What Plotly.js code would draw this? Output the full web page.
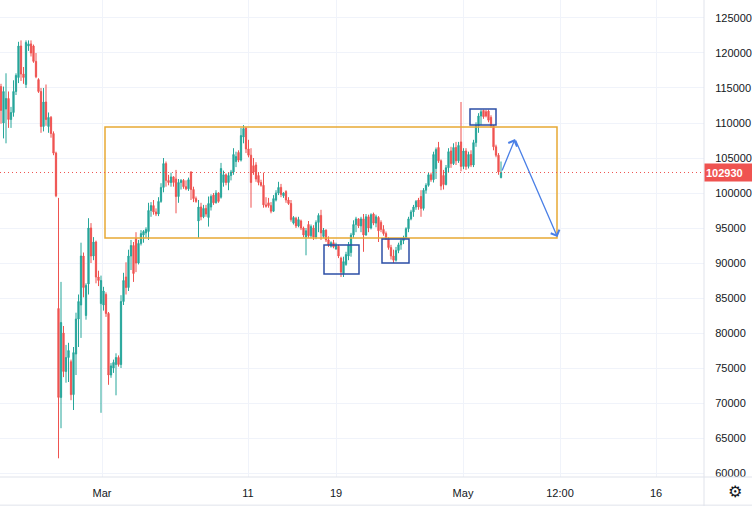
<!DOCTYPE html>
<html>
<head>
<meta charset="utf-8">
<script src="https://cdn.plot.ly/plotly-3.0.1.min.js"></script>
<style>html,body{margin:0;padding:0;background:#fff;}#chart{width:752px;height:506px;}</style>
</head>
<body>
<div id="chart"></div>
<script>
// Prices in thousands (axis adds the "000" suffix)
const openK = [
115.2,110,112,113.5,110.5,111.5,114.5,116.5,121,117,
115.5,121,121.3,121,118.8,116.2,114.5,109.5,113,109.5,
110.8,108.5,105.7,83.5,70.8,80,74.5,76.5,75.9,71.2,
77,82,84,91,82.5,87,95,91,93,88,
84.2,84,85.5,82.8,74,75,75.5,76.5,75.5,84.5,
88,86.5,91,92.5,93.5,90,92.8,94,94.3,94.5,
97.5,98.2,97.3,97,98.8,100.8,104.2,101.8,101.5,102.3,
102,99.5,101.5,101.8,100.9,100.6,103,100.5,99.2,96,
98,96.6,97.8,96.5,98,99.7,98.6,100,99.4,101.5,
102.6,101.5,102.5,103,104.5,105.8,104.7,108,109.3,106.3,
105.4,103.9,104,102.5,101.5,101.1,98.3,98.6,98.2,97.4,
99,100,100.8,99.6,100.2,99,98.5,95.7,96.4,95.3,
96,95,93.7,95.5,93.9,95,93.7,95.8,96.8,93.8,
94.7,93.3,92.4,92.9,92,92.4,90.7,88.5,89.8,91,
91.5,94,95.5,96.3,95.3,96.3,94,96.6,95,97,
95.7,96.5,95.8,94.8,94.2,93.5,92.2,91,90.4,91.8,
92.6,93.2,93.6,94.9,96.3,97.3,98,99,99.5,97.8,
100.4,101.1,102.6,101.9,103.5,106.5,104.6,102.5,101.2,103.6,
106,104.2,106.5,104.6,107.3,103.8,106,103.8,105.5,104,
107.2,109.6,111,111.8,111.6,111.7,110.8,109.6,106.6,105.4,
102.2];
const highK = [
115.6,115.2,117.1,114.5,112.3,116.1,117.1,121.6,121.8,118,
121.8,121.8,121.8,121.2,120,116.4,115,115,115.5,111.5,
111,108.8,105.9,99.3,87.3,81,78.3,78.6,76.2,78,
82.9,85.5,92.9,91.5,87.1,96.4,95.7,93.7,93.2,88.9,
88.2,86.6,85.8,83,75.7,76.2,77.1,76.8,85.4,88.6,
90.1,91.9,93.3,93,94.4,93.3,94.7,94.7,95.1,98.6,
98.7,99,97.8,99.4,101.4,105,104.5,102.6,102.9,102.4,
103.3,102,102,102,101.8,102.2,103.1,100.9,99.5,99,
98.6,98.3,98.3,99.5,99.8,100,100.4,100.1,104.3,103.2,
102.8,102.9,103.3,106.4,105.9,106.1,109.3,109.7,109.4,107.6,
106.4,105,104.4,103,101.9,102.9,99.4,99.3,98.7,99.7,
100.4,101.6,101.3,100.1,100.4,99.4,99,96.7,96.6,96.6,
96.2,95.2,95,96,95.5,95.4,96.1,97.1,97.6,95,
94.8,93.8,93.1,93.3,92.9,92.6,90.9,90.9,91.6,93,
94.3,96.1,96.6,96.4,96.6,97,97,96.9,97.1,97.2,
96.9,96.7,96.1,95.4,94.5,93.7,92.6,91.9,92.3,92.9,
93.6,93.9,95.1,96.6,97.6,98.3,99,99.3,100.4,100.7,
101.4,102.9,102.9,105.9,106.5,107.3,104.8,103.3,104,106.4,
106.6,107.1,107.3,107.3,113,106.4,106.4,105.9,106.1,107.6,
110.1,111.4,111.9,111.9,111.9,111.9,111.1,109.7,106.9,105.7,
104.5];
const lowK = [
109.9,107.8,107.1,109.3,109.3,110.9,114,115.7,116,115.6,
115,120.3,119.5,118.6,116.4,114.3,108.6,108.8,109.6,108.6,
107.9,105.4,99.4,62.1,66.4,73.7,72.9,73,70.4,69,
74,78,79.3,85.1,81.9,85.5,90,90.4,87.1,86.7,
68.6,83.2,82.3,72.6,73.6,74.3,71.1,75.2,75,84,
85.5,86,89,87.3,88.7,89.8,92.5,92.9,93.6,93.3,
96.6,96.9,96.7,96.7,98.6,100.1,100.9,101.1,100.9,100.9,
97.1,98.6,100.5,100.6,100.4,100.3,99,98.7,98.6,93.6,
96.1,96.4,96.6,95.2,97.5,98.3,98.5,98.6,99.2,100.9,
101.1,100.4,101.8,102.6,103.7,104.4,104.5,107.1,105.7,105.1,
97.9,102.6,101.6,101.1,100.9,97.9,97.9,97.9,97.1,97.3,
98.8,99.7,99.4,99.3,98.6,98.3,95.9,95.5,95,95.1,
94.7,93.7,91.1,93.6,93.6,93.3,93.4,94.4,93.3,93.6,
93,92.3,92.2,92.1,91.9,90.7,88,88,89.6,90.4,
90.9,93.6,94.4,95,94.4,91.6,93.9,94.4,94.8,95.4,
95.1,93,94.4,93.9,93.3,91.9,90.5,90,90.2,91.4,
91.9,92.7,93.5,94.4,96.1,96.6,97.6,97.6,96.6,97.5,
99.9,100.9,101.6,101.5,102,104.3,100.4,100.5,101.1,103,
103.6,104,104,104.3,103.1,103.4,103.3,103.5,103.7,103.7,
106.6,108.6,109.7,110.6,110.8,110.1,109.3,106.1,105.1,102.6,
102.1];
const closeK = [
111.8,114.5,113.5,110.5,111.5,114.5,116.8,121,117,116.5,
121.5,121.3,120,118.8,116.6,114.5,109.5,113,110.5,110.8,
108.5,105.7,99.6,70.8,81.5,74.5,76.5,77.5,71.2,77.2,
82,84.5,91,86.5,86.8,95,91,93,88,87.5,
87.5,86,82.8,74,75.3,75.8,76.5,75.5,84.5,87.5,
86.5,91,92.5,88.5,90,92.8,94.2,94.5,94.8,97.5,
98.2,97.3,97,98.8,100.8,104.2,101.8,101.5,102.3,101.5,
99.5,101.5,101.8,100.9,100.6,101.9,100.5,99.2,98.8,98,
96.6,97.8,97,98.5,99.5,98.6,100,98.8,103.5,102.6,
101.5,102.5,103,105.5,105.2,104.7,108.2,109.2,106.3,105.4,
101.5,103,102,101.5,101.1,98.3,98.1,98.2,97.4,99.2,
100,100.8,99.8,100,99,98.5,96.2,96.5,95.3,96.2,
95,94,94.6,93.9,95.2,93.7,95.8,96.8,94.3,94.7,
93.3,92.6,92.9,92.3,92.5,91,88.7,90.2,91.2,92.6,
94,95.5,96.3,95.3,96.3,94,96.6,95,96.9,95.7,
96.6,94.6,94.8,94.2,93.5,92.2,91,90.4,91.8,92.6,
93.2,93.6,94.9,96.3,97.3,98,98.8,98,97.8,100.4,
101.1,102.6,101.9,105.5,106.2,104.6,101,101.2,103.6,105.9,
104.2,106.5,104.6,106.8,103.8,106,103.8,105.5,104,107.2,
109.6,111,111.6,110.9,111,110.4,109.6,106.6,105.4,103,
102.93];

// Time axis labels (bar-index positions)
const tickPos = [40.4, 98.8, 134, 184.8, 223.6, 262];
const tickText = ['Mar', '11', '19', 'May', '12:00', '16'];

// Drawings (bar index / price in thousands)
const rangeBox = {x: [41.6, 222.4], y: [93.57, 109.43]};
const blueBoxes = [
  {x: [129.2, 143.2], y: [88.43, 92.57]},
  {x: [152.4, 163.2], y: [90.0, 93.43]},
  {x: [187.6, 198.0], y: [109.71, 112.0]}
];
const pathX = [200.2, 205.6, 222.6];
const pathY = [103.0, 107.7, 93.7];

const idx = closeK.map((_, i) => i);
const lastClose = closeK[closeK.length - 1];

const trace = {
  type: 'candlestick',
  x: idx, open: openK, high: highK, low: lowK, close: closeK,
  increasing: {line: {color: '#26a69a', width: 1}, fillcolor: '#26a69a'},
  decreasing: {line: {color: '#ef5350', width: 1}, fillcolor: '#ef5350'},
  whiskerwidth: 0,
  hoverinfo: 'skip'
};

const tickFont = {family: 'Liberation Sans, Arial, sans-serif', size: 11, color: '#131722'};
const shapes = [];
shapes.push({type: 'rect', xref: 'x', yref: 'y', x0: rangeBox.x[0], x1: rangeBox.x[1], y0: rangeBox.y[0], y1: rangeBox.y[1],
  line: {color: '#e8a935', width: 1.5}, fillcolor: 'rgba(0,0,0,0)'});
blueBoxes.forEach(b => shapes.push({type: 'rect', xref: 'x', yref: 'y', x0: b.x[0], x1: b.x[1], y0: b.y[0], y1: b.y[1],
  line: {color: '#2c4fa6', width: 1.5}, fillcolor: 'rgba(0,0,0,0)'}));
shapes.push({type: 'line', xref: 'paper', yref: 'y', x0: 0, x1: 1, y0: lastClose, y1: lastClose,
  line: {color: '#ef5350', width: 1, dash: '1px,3px'}});
shapes.push({type: 'line', xref: 'paper', yref: 'paper', x0: 1, x1: 1, y0: -0.07, y1: 1, line: {color: '#e0e3eb', width: 1}});
shapes.push({type: 'line', xref: 'paper', yref: 'paper', x0: 0, x1: 1.07, y0: 0, y1: 0, line: {color: '#e0e3eb', width: 1}});
shapes.push({type: 'line', xref: 'paper', yref: 'paper', x0: 0, x1: 1.07, y0: -0.059, y1: -0.059, line: {color: '#e0e3eb', width: 1}});

const annotations = [];
for (let k = 1; k < pathX.length; k++) {
  annotations.push({xref: 'x', yref: 'y', axref: 'x', ayref: 'y',
    x: pathX[k], y: pathY[k], ax: pathX[k - 1], ay: pathY[k - 1],
    text: '', showarrow: true, arrowhead: 4, arrowsize: 1.4, arrowwidth: 1.3, arrowcolor: '#4a7fe6', standoff: 0});
}
annotations.push({xref: 'paper', yref: 'y', x: 1, y: lastClose, xanchor: 'left', yanchor: 'middle',
  text: '<b>' + Math.round(lastClose * 1000) + '</b>', showarrow: false, bgcolor: '#ef5350',
  font: {family: 'Liberation Sans, Arial, sans-serif', size: 11, color: '#ffffff'}, width: 46, height: 15, align: 'left', borderpad: 1});
annotations.push({xref: 'paper', yref: 'paper', x: 1.044, y: -0.03, xanchor: 'center', yanchor: 'middle',
  text: '\u2699', showarrow: false, font: {family: 'DejaVu Sans', size: 16, color: '#131722'}});

const layout = {
  width: 752, height: 506,
  margin: {l: 0, r: 48, t: 0, b: 29},
  paper_bgcolor: '#ffffff', plot_bgcolor: '#ffffff',
  showlegend: false,
  xaxis: {type: 'linear', range: [-0.4, 281.2], tickvals: tickPos, ticktext: tickText,
    showgrid: true, gridcolor: '#f0f3fa', zeroline: false, showline: false,
    ticks: 'outside', ticklen: 6, tickcolor: 'rgba(0,0,0,0)', tickfont: tickFont,
    rangeslider: {visible: false}, fixedrange: true},
  yaxis: {side: 'right', range: [59.43, 127.57], tick0: 60, dtick: 5, ticksuffix: '000',
    showgrid: true, gridcolor: '#f0f3fa', zeroline: false, showline: false,
    ticks: 'outside', ticklen: 8, tickcolor: 'rgba(0,0,0,0)', tickfont: tickFont, fixedrange: true},
  shapes: shapes,
  annotations: annotations
};

Plotly.newPlot('chart', [trace], layout, {staticPlot: true, displayModeBar: false});
</script>
</body>
</html>
